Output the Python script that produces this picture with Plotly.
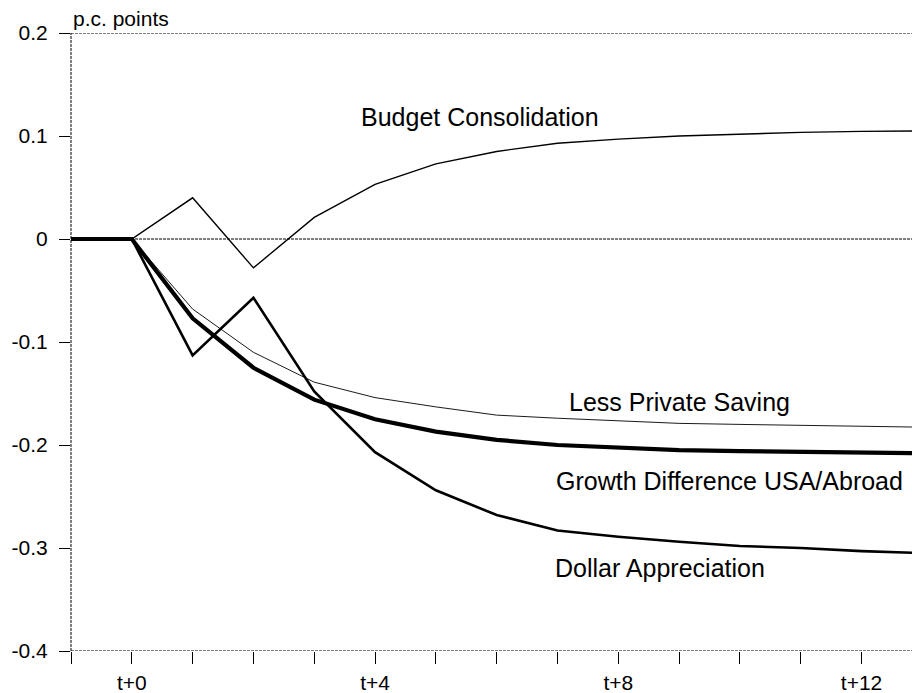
import plotly.graph_objects as go

periods = [-1, 0, 1, 2, 3, 4, 5, 6, 7, 8, 9, 10, 11, 12, 13]
budget_consolidation = [0, 0, 0.040, -0.028, 0.021, 0.053, 0.073, 0.085, 0.093, 0.097, 0.100, 0.102, 0.1035, 0.1045, 0.105]
less_private_saving = [0, 0, -0.068, -0.110, -0.139, -0.154, -0.163, -0.171, -0.174, -0.1765, -0.179, -0.180, -0.181, -0.182, -0.1827]
growth_difference = [0, 0, -0.077, -0.125, -0.156, -0.175, -0.187, -0.195, -0.200, -0.203, -0.205, -0.206, -0.207, -0.207, -0.208]
dollar_appreciation = [0, 0, -0.113, -0.057, -0.148, -0.207, -0.244, -0.268, -0.283, -0.289, -0.294, -0.298, -0.300, -0.303, -0.305]

x_tick_vals = list(range(-1, 13))
x_tick_text = ["", "t+0", "", "", "", "t+4", "", "", "", "t+8", "", "", "", "t+12"]
y_tick_vals = [0.2, 0.1, 0, -0.1, -0.2, -0.3, -0.4]
y_tick_text = ["0.2", "0.1", "0", "-0.1", "-0.2", "-0.3", "-0.4"]

labels = [
    ("Budget Consolidation", 3.73, 0.118),
    ("Less Private Saving", 7.15, -0.158),
    ("Growth Difference USA/Abroad", 6.95, -0.235),
    ("Dollar Appreciation", 6.92, -0.319),
]

FONT = "Liberation Sans, Arial, sans-serif"

fig = go.Figure()
series = [
    (budget_consolidation, 1.4),
    (less_private_saving, 0.9),
    (dollar_appreciation, 2.6),
    (growth_difference, 4.2),
]
for ys, w in series:
    fig.add_trace(go.Scatter(x=periods, y=ys, mode="lines",
                             line=dict(color="black", width=w),
                             hoverinfo="skip", showlegend=False))

dash = "3px,1px"
for y0 in [0, 0.2, -0.4]:
    fig.add_shape(type="line", xref="paper", yref="y", x0=0, x1=1, y0=y0, y1=y0,
                  line=dict(color="black", width=1, dash=dash))
fig.add_shape(type="line", xref="paper", yref="y", x0=0, x1=0, y0=-0.4, y1=0.2,
              line=dict(color="black", width=1, dash=dash))

for text, x, y in labels:
    fig.add_annotation(x=x, y=y, text=text, showarrow=False, xanchor="left",
                       yanchor="middle", font=dict(family=FONT, size=25, color="black"))

fig.add_annotation(xref="paper", yref="paper", x=0.0, y=1.0, yshift=1,
                   text="p.c. points", showarrow=False, xanchor="left", yanchor="bottom",
                   font=dict(family=FONT, size=21, color="black"))

fig.update_layout(
    width=912, height=693,
    margin=dict(l=71, r=0, t=33, b=42, autoexpand=False),
    paper_bgcolor="white", plot_bgcolor="white",
    font=dict(family=FONT, size=21, color="black"),
    xaxis=dict(range=[-1, 12.83], tickmode="array", tickvals=x_tick_vals, ticktext=x_tick_text,
               ticks="outside", ticklen=12, tickwidth=1, tickcolor="black", automargin=False,
               showgrid=False, zeroline=False, showline=False, ticklabelstandoff=1),
    yaxis=dict(range=[-0.4, 0.2], tickmode="array", tickvals=y_tick_vals, ticktext=y_tick_text,
               ticks="outside", ticklen=11, tickwidth=1, tickcolor="black", automargin=False,
               showgrid=False, zeroline=False, showline=False, ticklabelstandoff=7),
)

fig.write_html("out.html", config={"displayModeBar": False, "staticPlot": True},
               post_script="document.body.style.margin='0';document.body.style.overflow='hidden';")
